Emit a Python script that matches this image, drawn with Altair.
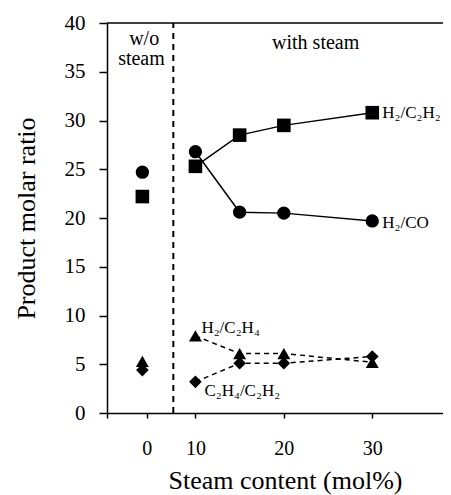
import altair as alt
import pandas as pd

# ---- data ----
steam = [10, 15, 20, 30]                 # mol% steam (with-steam region)
h2_c2h2 = [25.3, 28.5, 29.5, 30.8]
h2_co = [26.8, 20.6, 20.5, 19.7]
h2_c2h4 = [7.9, 6.1, 6.1, 5.2]
c2h4_c2h2 = [3.2, 5.1, 5.1, 5.8]

# 0 mol% (w/o steam) values
wo_vals = [22.2, 24.7, 5.3, 4.4]

series_names = ["H₂/C₂H₂", "H₂/CO", "H₂/C₂H₄", "C₂H₄/C₂H₂"]
series_shapes = ["square", "circle", "triangle-up", "diamond"]
series_sizes = [185, 160, 330, 280]

WO_POS = 4.0          # plotted position of the 0 mol% group on the broken axis
WO_TICK = 4.5
DIVIDER = 7.5
x_ticks = [0, WO_TICK, 10, 20, 30]
y_ticks = [0, 5, 10, 15, 20, 25, 30, 35, 40]

FONT = "Liberation Serif"
W, H = 336, 390

rows = []
for name, vals, wv in zip(series_names, [h2_c2h2, h2_co, h2_c2h4, c2h4_c2h2], wo_vals):
    rows.append({"x": WO_POS, "value": wv, "series": name, "phase": "wo"})
    for s, v in zip(steam, vals):
        rows.append({"x": s, "value": v, "series": name, "phase": "with"})
df = pd.DataFrame(rows)

df_with = df[df.phase == "with"]
df_solid = df_with[df_with.series.isin(series_names[:2])]
df_dash = df_with[df_with.series.isin(series_names[2:])]

xs = alt.Scale(domain=[0, 38], nice=False, zero=False)
ys = alt.Scale(domain=[0, 40], nice=False)

x_enc = alt.X("x:Q", scale=xs, title="Steam content (mol%)",
              axis=alt.Axis(values=x_ticks,
                            labelExpr="datum.value == 0 ? '' : (datum.value < 5 ? '0' : datum.label)",
                            tickSize=5, labelPadding=20, labelFontSize=20,
                            labelFont=FONT, titleFont=FONT, titleFontWeight="normal",
                            titleFontSize=26, titleX=178, titleY=75,
                            titleBaseline="alphabetic", titleAlign="center"))
y_enc = alt.Y("value:Q", scale=ys, title="Product molar ratio",
              axis=alt.Axis(values=y_ticks, tickSize=8, labelPadding=14,
                            labelFont=FONT, titleFont=FONT, titleFontWeight="normal",
                            labelFontSize=21, titleFontSize=26,
                            titleX=-81, titleY=H / 2, titleBaseline="middle",
                            titleAlign="center"))

solid = alt.Chart(df_solid).mark_line(color="black", strokeWidth=1.5).encode(
    x=x_enc, y=y_enc, detail="series:N")

dashed = alt.Chart(df_dash).mark_line(color="black", strokeWidth=1.5, strokeDash=[5, 4]).encode(
    x="x:Q", y="value:Q", detail="series:N")

points = alt.Chart(df).mark_point(filled=True, color="black", opacity=1).encode(
    x="x:Q", y="value:Q",
    shape=alt.Shape("series:N", scale=alt.Scale(domain=series_names, range=series_shapes), legend=None),
    size=alt.Size("series:N", scale=alt.Scale(domain=series_names, range=series_sizes), legend=None),
)

# series labels
def series_label(name, at_x, dx, dy):
    d = df[(df.series == name) & (df.x == at_x)].assign(label=name)
    return alt.Chart(d).mark_text(font=FONT, fontSize=17, align="left", baseline="middle",
                                  dx=dx, dy=dy, color="black").encode(
        x="x:Q", y="value:Q", text="label:N")

labels = (series_label(series_names[0], 30, 10, 0)
          + series_label(series_names[1], 30, 10, 2)
          + series_label(series_names[2], 10, 6, -8)
          + series_label(series_names[3], 10, 9, 9))

# region annotations
region_text = ["w/o", "steam", "with steam"]
region_x = [4.2, 3.9, 23.6]
region_y = [38.4, 36.3, 38.0]
reg = alt.Chart(pd.DataFrame({"t": region_text, "x": region_x, "y": region_y})).mark_text(
    font=FONT, fontSize=20, align="center", baseline="middle", color="black").encode(
    x="x:Q", y="y:Q", text="t:N")

divider = alt.Chart(pd.DataFrame({"x": [DIVIDER], "y": [0], "y2": [40]})).mark_rule(
    color="black", strokeWidth=2, strokeDash=[6, 5]).encode(x="x:Q", y="y:Q", y2="y2:Q")

top = alt.Chart(pd.DataFrame({"a": [0]})).mark_rule(color="black", strokeWidth=1.5).encode(
    x=alt.value(0), x2=alt.value(W), y=alt.value(0))

chart = alt.layer(solid, dashed, divider, top, points, labels, reg).properties(
    width=W, height=H, background="white",
    autosize=alt.AutoSizeParams(type="none"),
    padding={"left": 99, "top": 15, "right": 0, "bottom": 86},
).configure(font=FONT).configure_view(stroke=None).configure_axis(
    grid=False, domainColor="black", domainWidth=1.5, tickColor="black", tickWidth=1.5,
    labelColor="black", titleColor="black", labelFont=FONT, titleFont=FONT,
    titleFontWeight="normal",
)

chart.save("out.html", embed_options={"renderer": "svg", "actions": False})
